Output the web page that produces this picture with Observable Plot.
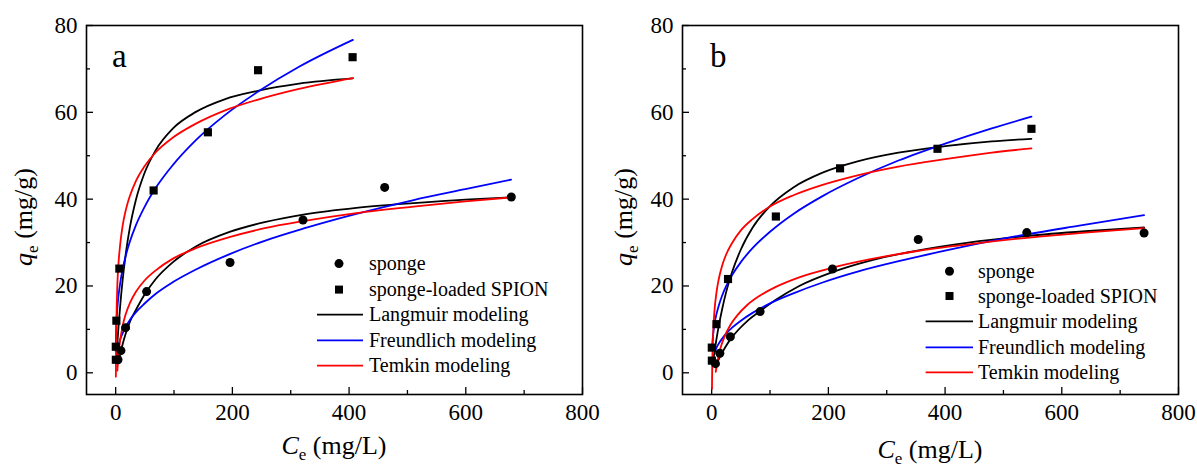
<!DOCTYPE html>
<html><head><meta charset="utf-8">
<script src="https://cdn.jsdelivr.net/npm/d3@7"></script>
<script src="https://cdn.jsdelivr.net/npm/@observablehq/plot@0.6"></script>
<style>
body{margin:0;background:#fff;}
#fig{position:relative;width:1197px;height:467px;overflow:hidden;background:#fff;}
.panel{position:absolute;top:0;}
</style></head><body><div id="fig"></div>
<script>
// ---------- tick values & labels ----------
const X_MAJOR = [0, 200, 400, 600, 800];
const X_MINOR = [100, 300, 500, 700];
const Y_MAJOR = [0, 20, 40, 60, 80];
const Y_MINOR = [10, 30, 50, 70];
const LEGEND_LABELS = ["sponge", "sponge-loaded SPION", "Langmuir modeling", "Freundlich modeling", "Temkin modeling"];
const PANEL_NAMES = ["a", "b"];

// ---------- panel a : measured ----------
const a_sponge_Ce = [4, 9, 17, 53, 196, 321, 461, 678];
const a_sponge_qe = [3.0, 5.1, 10.4, 18.7, 25.4, 35.2, 42.7, 40.5];
const a_spion_Ce = [0.3, 0.2, 1.2, 6.3, 65, 158, 244, 406];
const a_spion_qe = [3.0, 6.0, 12.0, 24.0, 42.0, 55.4, 69.7, 72.7];

// ---------- panel a : model curves ----------
const a_spongeL_Ce = [3.9, 7.9, 11.8, 16.7, 24.5, 34.4, 49.1, 68.7, 98.2, 137.5, 196.4, 255.3, 324, 412.4, 510.6, 599, 677.6];
const a_spongeL_qe = [2.3, 4.3, 6.5, 8.8, 11.8, 14.4, 17.9, 21.6, 25.5, 29.1, 32.5, 34.7, 36.5, 38.0, 39.1, 39.9, 40.4];
const a_spongeF_Ce = [3.9, 7.9, 11.8, 16.7, 24.5, 34.4, 49.1, 68.7, 98.2, 137.5, 196.4, 255.3, 324, 412.4, 510.6, 599, 677.6];
const a_spongeF_qe = [5.9, 7.8, 9.1, 10.5, 12.2, 13.9, 15.9, 18.2, 20.9, 23.8, 27.4, 30.4, 33.3, 36.6, 39.8, 42.3, 44.5];
const a_spongeT_Ce = [2.9, 4.9, 7.9, 11.8, 16.7, 24.5, 34.4, 49.1, 68.7, 98.2, 137.5, 196.4, 255.3, 324, 412.4, 510.6, 599, 677.6];
const a_spongeT_qe = [0.5, 4.3, 7.7, 10.7, 13.3, 16.1, 18.6, 21.2, 23.6, 26.3, 28.7, 31.3, 33.3, 35.0, 36.8, 38.3, 39.5, 40.4];
const a_spionL_Ce = [1, 2, 2.9, 4.9, 7.9, 11.8, 17.7, 24.5, 34.4, 49.1, 68.7, 98.2, 137.5, 186.6, 245.5, 314.2, 406.5];
const a_spionL_qe = [2.4, 4.7, 6.8, 10.7, 15.7, 21.2, 27.8, 33.6, 39.7, 45.9, 51.3, 56.3, 60.1, 63.0, 65.0, 66.6, 67.8];
const a_spionF_Ce = [0.1, 0.3, 0.7, 1.5, 2.9, 4.9, 7.9, 11.8, 17.7, 24.5, 34.4, 49.1, 68.7, 98.2, 137.5, 186.6, 245.5, 314.2, 406.5];
const a_spionF_qe = [4.9, 7.0, 9.3, 11.9, 15.0, 17.8, 20.8, 23.8, 27.2, 30.3, 33.9, 38.1, 42.6, 47.9, 53.6, 59.3, 64.9, 70.5, 76.7];
const a_spionT_Ce = [0.33, 0.6, 1, 2, 2.9, 4.9, 7.9, 11.8, 17.7, 24.5, 34.4, 49.1, 68.7, 98.2, 137.5, 186.6, 245.5, 314.2, 406.5];
const a_spionT_qe = [-0.9, 4.9, 9.8, 16.5, 20.4, 25.3, 29.8, 33.8, 37.7, 40.8, 44.1, 47.5, 50.8, 54.2, 57.4, 60.4, 63.0, 65.4, 67.9];

// ---------- panel b : measured ----------
const b_sponge_Ce = [6.5, 14, 32, 83, 207, 354, 540, 741];
const b_sponge_qe = [2.1, 4.5, 8.3, 14.1, 23.9, 30.7, 32.3, 32.2];
const b_spion_Ce = [0.3, 0.2, 8.3, 28, 110, 220, 387, 548];
const b_spion_qe = [2.8, 5.8, 11.2, 21.6, 36.0, 47.1, 51.6, 56.2];

// ---------- panel b : model curves ----------
const b_spongeL_Ce = [6, 10, 15, 22, 32, 45, 60, 83, 110, 150, 207, 270, 350, 440, 540, 640, 741];
const b_spongeL_qe = [1.5, 2.5, 3.9, 5.6, 7.7, 9.8, 11.8, 14.2, 16.8, 20.0, 23.2, 25.8, 28.1, 30.0, 31.5, 32.6, 33.5];
const b_spongeF_Ce = [5, 8, 12, 18, 25, 35, 50, 70, 100, 140, 190, 250, 330, 420, 520, 630, 741];
const b_spongeF_qe = [4.7, 5.7, 6.7, 7.9, 9.1, 10.4, 12.0, 13.8, 16.0, 18.3, 20.8, 23.3, 26.0, 28.7, 31.4, 33.9, 36.3];
const b_spongeT_Ce = [7, 9, 12, 16, 22, 32, 45, 60, 83, 110, 150, 207, 270, 350, 440, 540, 640, 741];
const b_spongeT_qe = [0.2, 2.0, 4.0, 6.1, 8.3, 11.0, 13.4, 15.5, 17.8, 19.8, 22.0, 24.2, 26.1, 28.0, 29.6, 31.1, 32.3, 33.3];
const b_spionL_Ce = [3, 5, 8, 12, 18, 25, 35, 50, 70, 100, 140, 190, 250, 320, 400, 480, 548];
const b_spionL_qe = [3.1, 5.0, 7.6, 10.7, 14.7, 18.7, 23.2, 28.4, 33.4, 38.4, 42.7, 46.1, 48.7, 50.7, 52.2, 53.3, 53.9];
const b_spionF_Ce = [0.8, 1.5, 3, 5, 8, 12, 18, 25, 35, 50, 70, 100, 140, 190, 250, 320, 400, 480, 548];
const b_spionF_qe = [6.0, 7.4, 9.5, 11.4, 13.4, 15.4, 17.8, 20.0, 22.5, 25.5, 28.7, 32.5, 36.6, 40.7, 44.8, 48.9, 52.8, 56.3, 59.0];
const b_spionT_Ce = [0.5, 0.8, 1.2, 2, 3, 5, 8, 12, 18, 25, 35, 50, 70, 100, 140, 190, 250, 320, 400, 480, 548];
const b_spionT_qe = [-3.7, 0.1, 3.3, 7.3, 10.5, 14.6, 18.3, 21.5, 24.7, 27.3, 29.9, 32.8, 35.4, 38.3, 40.9, 43.3, 45.5, 47.5, 49.2, 50.7, 51.7];

// ---------- drawing ----------
const FONT = '"Liberation Serif", "Times New Roman", Times, serif';
const BLACK = "#000000", BLUE = "#0000ff", RED = "#ff0000";
const rows = (C, q) => C.map((c, i) => ({C: c, q: q[i]}));

function drawPanel(cfg) {
  const lineOpts = (stroke) => ({x: "C", y: "q", stroke, strokeWidth: 1.8, curve: "monotone-x"});
  const svg = Plot.plot({
    width: 600, height: 467,
    marginLeft: cfg.ml, marginRight: cfg.mr, marginTop: 25, marginBottom: 73,
    x: {domain: [-50, 800]},
    y: {domain: [-5, 80]},
    style: {fontFamily: FONT, fontSize: "23px", color: "black", background: "transparent", overflow: "visible"},
    marks: [
      Plot.axisX(X_MINOR, {anchor: "bottom", tickSize: 4, dy: -4, tickFormat: () => "", label: null, strokeWidth: 1.3}),
      Plot.axisX(X_MAJOR, {anchor: "bottom", tickSize: 7, dy: -7, tickFormat: () => "", label: null, strokeWidth: 1.3}),
      Plot.axisX(X_MAJOR, {anchor: "bottom", tickSize: 0, tickPadding: 9, label: null, fontSize: 23}),
      Plot.axisY(Y_MINOR, {anchor: "left", tickSize: 4, dx: 4, tickFormat: () => "", label: null, strokeWidth: 1.3}),
      Plot.axisY(Y_MAJOR, {anchor: "left", tickSize: 7, dx: 7, tickFormat: () => "", label: null, strokeWidth: 1.3}),
      Plot.axisY(Y_MAJOR, {anchor: "left", tickSize: 0, tickPadding: 9, label: null, fontSize: 23}),
      Plot.line(rows(cfg.spongeL[0], cfg.spongeL[1]), lineOpts(BLACK)),
      Plot.line(rows(cfg.spongeF[0], cfg.spongeF[1]), lineOpts(BLUE)),
      Plot.line(rows(cfg.spongeT[0], cfg.spongeT[1]), lineOpts(RED)),
      Plot.line(rows(cfg.spionL[0], cfg.spionL[1]), lineOpts(BLACK)),
      Plot.line(rows(cfg.spionF[0], cfg.spionF[1]), lineOpts(BLUE)),
      Plot.line(rows(cfg.spionT[0], cfg.spionT[1]), lineOpts(RED)),
      Plot.dot(rows(cfg.sponge[0], cfg.sponge[1]), {x: "C", y: "q", r: 4.5, fill: BLACK, symbol: "circle"}),
      Plot.dot(rows(cfg.spion[0], cfg.spion[1]), {x: "C", y: "q", r: 4.6, fill: BLACK, symbol: "square"}),
      Plot.frame({stroke: BLACK, strokeWidth: 1.6})
    ]
  });
  const s = d3.select(svg);
  // panel letter
  s.append("text").attr("x", cfg.letterX).attr("y", 67).attr("text-anchor", "start").attr("font-family", FONT)
    .attr("font-size", 33).attr("fill", BLACK).text(cfg.name);
  // legend
  const L = cfg.legend;
  const lg = s.append("g").attr("font-family", FONT).attr("font-size", 20).attr("fill", BLACK).attr("text-anchor", "start");
  lg.append("circle").attr("cx", L.mx).attr("cy", L.ys[0]).attr("r", 4.5).attr("fill", BLACK);
  lg.append("rect").attr("x", L.mx - 4).attr("y", L.ys[1] - 4).attr("width", 8).attr("height", 8).attr("fill", BLACK);
  [BLACK, BLUE, RED].forEach((c, i) => {
    lg.append("line").attr("x1", L.lx1).attr("x2", L.lx2).attr("y1", L.ys[i + 2]).attr("y2", L.ys[i + 2])
      .attr("stroke", c).attr("stroke-width", 1.8);
  });
  LEGEND_LABELS.forEach((t, i) => {
    lg.append("text").attr("x", L.tx).attr("y", L.ys[i]).attr("dy", "0.33em").attr("text-anchor", "start").text(t);
  });
  // x title
  const xt = s.append("text").attr("x", cfg.xTitleX).attr("y", cfg.xTitleY).attr("text-anchor", "middle")
    .attr("font-family", FONT).attr("font-size", 26).attr("fill", BLACK);
  xt.append("tspan").attr("font-style", "italic").text("C");
  xt.append("tspan").attr("font-size", 17).attr("dy", 6).text("e");
  xt.append("tspan").attr("dy", -6).text(" (mg/L)");
  // y title
  const yt = s.append("text").attr("transform", `translate(${cfg.yTitleX},217) rotate(-90)`).attr("text-anchor", "middle")
    .attr("font-family", FONT).attr("font-size", 26).attr("fill", BLACK);
  yt.append("tspan").attr("font-style", "italic").text("q");
  yt.append("tspan").attr("font-size", 17).attr("dy", 6).text("e");
  yt.append("tspan").attr("dy", -6).text(" (mg/g)");

  const wrap = document.createElement("div");
  wrap.className = "panel";
  wrap.style.left = cfg.left + "px";
  wrap.appendChild(svg);
  document.getElementById("fig").appendChild(wrap);
}

drawPanel({
  name: PANEL_NAMES[0], left: 0, ml: 86, mr: 18, letterX: 112,
  sponge: [a_sponge_Ce, a_sponge_qe], spion: [a_spion_Ce, a_spion_qe],
  spongeL: [a_spongeL_Ce, a_spongeL_qe], spongeF: [a_spongeF_Ce, a_spongeF_qe], spongeT: [a_spongeT_Ce, a_spongeT_qe],
  spionL: [a_spionL_Ce, a_spionL_qe], spionF: [a_spionF_Ce, a_spionF_qe], spionT: [a_spionT_Ce, a_spionT_qe],
  legend: {mx: 339, tx: 369, lx1: 317, lx2: 363, ys: [263.6, 289.6, 314.7, 340.3, 365.7]},
  xTitleX: 334, xTitleY: 454, yTitleX: 32
});
drawPanel({
  name: PANEL_NAMES[1], left: 597, ml: 85, mr: 19, letterX: 113,
  sponge: [b_sponge_Ce, b_sponge_qe], spion: [b_spion_Ce, b_spion_qe],
  spongeL: [b_spongeL_Ce, b_spongeL_qe], spongeF: [b_spongeF_Ce, b_spongeF_qe], spongeT: [b_spongeT_Ce, b_spongeT_qe],
  spionL: [b_spionL_Ce, b_spionL_qe], spionF: [b_spionF_Ce, b_spionF_qe], spionT: [b_spionT_Ce, b_spionT_qe],
  legend: {mx: 352.5, tx: 381, lx1: 328.6, lx2: 376, ys: [271.3, 296, 321.3, 347.3, 372.3]},
  xTitleX: 333, xTitleY: 458, yTitleX: 35
});
</script>
</body></html>
